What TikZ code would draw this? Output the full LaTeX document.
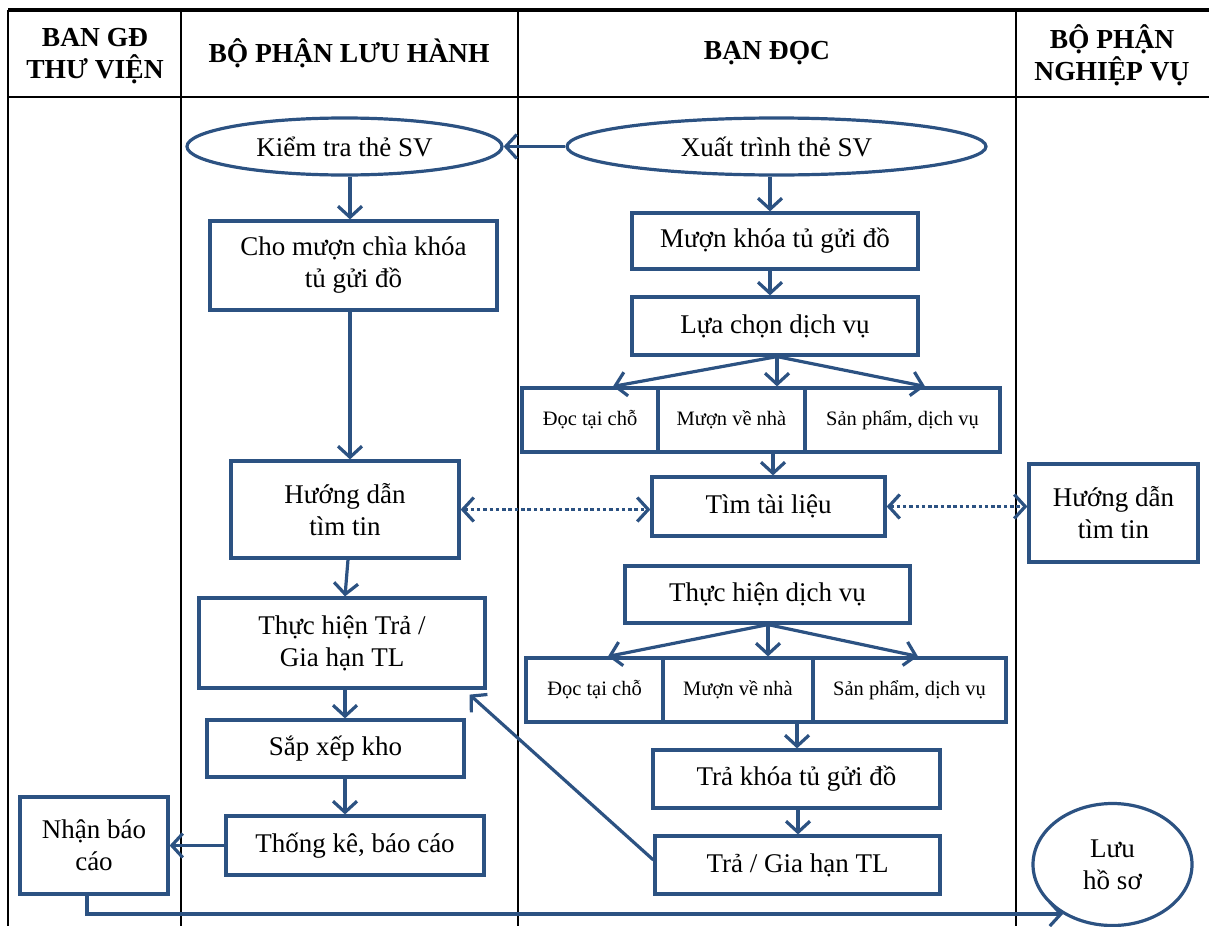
\documentclass[tikz,border=0pt]{standalone}
\usepackage{fontspec}
\setmainfont{Liberation Serif}
\usetikzlibrary{shapes.geometric,arrows.meta,calc}
\definecolor{flow}{HTML}{2C5282}

\begin{document}
\begin{tikzpicture}[x=1pt,y=-1pt,
  box/.style={draw=flow, line width=3.2pt, rectangle, inner sep=0pt, align=center,
    font=\fontsize{27}{32}\selectfont},
  oval/.style={draw=flow, line width=3.2pt, ellipse, inner sep=0pt, align=center,
    font=\fontsize{27}{32}\selectfont},
  small/.style={box, font=\fontsize{20.5}{24}\selectfont},
  tip/.tip={Straight Barb[length=11pt,width=24pt,line width=3.2pt]},
  arr/.style={draw=flow, line width=3.2pt, -tip},
  dots/.style={draw=flow, line width=3.6pt, dash pattern=on 3.5pt off 2.8pt, tip-tip},
  grid/.style={draw=black, line width=1.8pt},
  head/.style={font=\bfseries\fontsize{27.5}{32}\selectfont, align=center}
]
\useasboundingbox (0,0) rectangle (1209,926);

% swimlane table
\draw[grid, line width=3.2pt] (8,10) -- (1209,10);
\draw[grid] (8,97) -- (1209,97);
\foreach \x in {8,181,518,1016} \draw[grid] (\x,10) -- (\x,926);

% lane headers
\node[head] (h1) at (95,56) {BAN GĐ\\THƯ VIỆN};
\node[head] (h2) at (349,53) {BỘ PHẬN LƯU HÀNH};
\node[head] (h3) at (767,53) {BẠN ĐỌC};
\node[head] (h4) at (1112,55) {BỘ PHẬN\\NGHIỆP VỤ};

% steps
\node[oval, minimum width=315, minimum height=57] (kt) at (344.5,146.5) {Kiểm tra thẻ SV};
\node[oval, minimum width=419, minimum height=57] (xt) at (776.5,146.5) {Xuất trình thẻ SV};
\node[box, minimum width=287, minimum height=89] (cm) at (353.5,265.5) {Cho mượn chìa khóa\\tủ gửi đồ};
\node[box, minimum width=286, minimum height=56] (mk) at (775,241) {Mượn khóa tủ gửi đồ};
\node[box, minimum width=286, minimum height=58] (lc) at (775,326) {Lựa chọn dịch vụ};
\node[small, minimum width=136, minimum height=64] (d1) at (590,420) {Đọc tại chỗ};
\node[small, minimum width=147, minimum height=64] (m1) at (731.5,420) {Mượn về nhà};
\node[small, minimum width=195, minimum height=64] (s1) at (902.5,420) {Sản phẩm, dịch vụ};
\node[box, minimum width=233, minimum height=59] (tt) at (768.5,506.5) {Tìm tài liệu};
\node[box, minimum width=228, minimum height=97] (hd) at (345,509.5) {Hướng dẫn\\tìm tin};
\node[box, minimum width=169, minimum height=98] (hr) at (1113.5,513) {Hướng dẫn\\tìm tin};
\node[box, minimum width=285, minimum height=57] (th) at (767.5,594.5) {Thực hiện dịch vụ};
\node[small, minimum width=137, minimum height=64] (d2) at (594.5,690) {Đọc tại chỗ};
\node[small, minimum width=150, minimum height=64] (m2) at (738,690) {Mượn về nhà};
\node[small, minimum width=193, minimum height=64] (s2) at (909.5,690) {Sản phẩm, dịch vụ};
\node[box, minimum width=287, minimum height=58] (tk) at (796.5,779) {Trả khóa tủ gửi đồ};
\node[box, minimum width=285, minimum height=58] (tg) at (797.5,865) {Trả / Gia hạn TL};
\node[box, minimum width=286, minimum height=90] (tr) at (342,643) {Thực hiện Trả /\\Gia hạn TL};
\node[box, minimum width=257, minimum height=57] (sx) at (335.5,748.5) {Sắp xếp kho};
\node[box, minimum width=258, minimum height=59] (tke) at (355,845.5) {Thống kê, báo cáo};
\node[box, minimum width=148, minimum height=97] (nb) at (94,845.5) {Nhận báo\\cáo};
\node[oval, minimum width=159, minimum height=122] (lhs) at (1112.5,864.5) {Lưu\\hồ sơ};

% connectors
\draw[arr] (xt.west) -- (kt.east);
\draw[arr] ([xshift=5.5pt]kt.south) -- ([xshift=-3.5pt]cm.north);
\draw[arr] ([xshift=-6.5pt]xt.south) -- ([xshift=-5pt]mk.north);
\draw[arr] ([xshift=-5pt]mk.south) -- ([xshift=-5pt]lc.north);
\draw[arr] ([xshift=2pt]lc.south) -- ([xshift=23pt]d1.north);
\draw[arr] ([xshift=2pt]lc.south) -- ([xshift=45.5pt]m1.north);
\draw[arr] ([xshift=2pt]lc.south) -- ([xshift=22.5pt]s1.north);
\draw[arr] ([xshift=41.5pt]m1.south) -- ([xshift=4.5pt]tt.north);
\draw[arr] ([xshift=-3.5pt]cm.south) -- ([xshift=5pt]hd.north);
\draw[dots] (hd.east) -- (hd.east -| tt.west);
\draw[dots] (tt.east) -- (tt.east -| hr.west);
\draw[arr] ([xshift=0.5pt]th.south) -- ([xshift=13.5pt]d2.north);
\draw[arr] ([xshift=0.5pt]th.south) -- ([xshift=30pt]m2.north);
\draw[arr] ([xshift=0.5pt]th.south) -- ([xshift=8.5pt]s2.north);
\draw[arr] ([xshift=59pt]m2.south) -- ([xshift=0.5pt]tk.north);
\draw[arr] ([xshift=1.5pt]tk.south) -- ([xshift=0.5pt]tg.north);
\draw[arr] ($(tg.west)+(0,-5)$) -- ($(tr.south east)+(-17,5)$);
\draw[arr] ([xshift=3pt]hd.south) -- ([xshift=3pt]tr.north);
\draw[arr] ([xshift=3pt]tr.south) -- ([xshift=9.5pt]sx.north);
\draw[arr] ([xshift=9.5pt]sx.south) -- ([xshift=-10pt]tke.north);
\draw[arr] (tke.west) -- (tke.west -| nb.east);
\draw[arr] ([xshift=-7pt]nb.south) |- (lhs.225);
\end{tikzpicture}
\end{document}
